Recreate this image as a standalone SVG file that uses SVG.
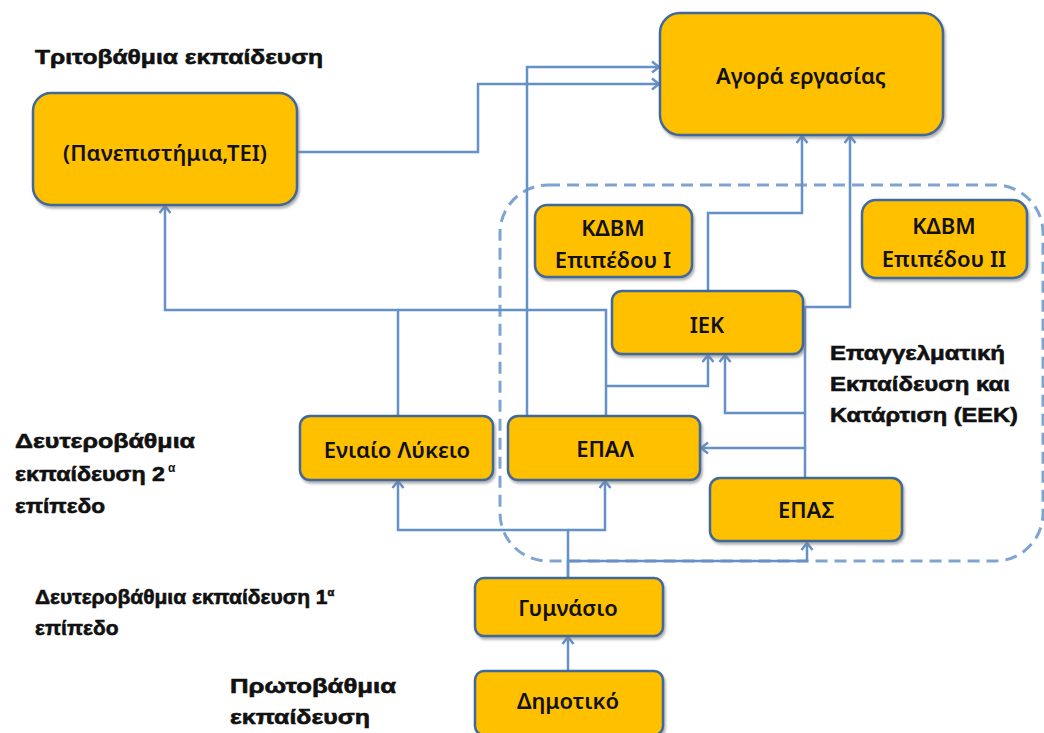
<svg xmlns="http://www.w3.org/2000/svg" width="1044" height="733" viewBox="0 0 1044 733">
<defs>
<style>
.box{fill:#ffc000;stroke:#41689a;stroke-width:2.5;filter:url(#sh)}
.nt{font-family:"Noto Sans","Open Sans",sans-serif;font-size:22px;font-weight:600;fill:#111;text-anchor:middle;dominant-baseline:central}
.lb{font-family:"Liberation Sans",Arial,sans-serif;font-size:21px;font-weight:bold;fill:#111;stroke:#111;stroke-width:0.6}
.sup{font-family:"Liberation Sans",Arial,sans-serif;font-size:12px;font-weight:bold;fill:#111}
.c{fill:none;stroke:#6590c8;stroke-width:2.5}
.ca{fill:none;stroke:#6590c8;stroke-width:2.5;marker-end:url(#ah)}
.dash{fill:none;stroke:#7fa4d2;stroke-width:3;stroke-dasharray:12 7}
</style>
<filter id="sh" x="-10%" y="-10%" width="120%" height="130%">
<feDropShadow dx="1.5" dy="2.5" stdDeviation="1" flood-color="#7f7f7f" flood-opacity="0.6"/>
</filter>
<marker id="ah" markerUnits="userSpaceOnUse" markerWidth="14" markerHeight="14" refX="10" refY="7" orient="auto">
<path d="M3,1.5 L10,7 L3,12.5" fill="none" stroke="#6590c8" stroke-width="2.5"/>
</marker>
</defs>

<rect class="dash" x="500" y="185" width="543" height="376" rx="48"/>

<g id="connectors">
<path class="ca" d="M297,152 H478 V84 H659"/>
<path class="ca" d="M527,416 V67 H659"/>
<path class="ca" d="M708,291 V213 H802 V136"/>
<path class="ca" d="M805,478 V307 H850 V136"/>
<path class="ca" d="M398,416 V310 H165 V206"/>
<path class="c" d="M606,416 V310 H398"/>
<path class="ca" d="M606,386 H708 V355"/>
<path class="ca" d="M805,413 H725 V355"/>
<path class="ca" d="M805,448 H701"/>
<path class="ca" d="M568,578 V530 H398 V481"/>
<path class="ca" d="M568,530 H605 V481"/>
<path class="ca" d="M568,578 V561 H807 V543"/>
<path class="ca" d="M568,671 V637"/>
</g>

<g id="uni"><rect class="box" x="33" y="93" width="264" height="112" rx="18"/><text class="nt" x="165" y="152">(Πανεπιστήμια,ΤΕΙ)</text></g>
<g id="agora"><rect class="box" x="660" y="13" width="283" height="122" rx="20"/><text class="nt" x="801" y="75" font-size="24">Αγορά εργασίας</text></g>
<g id="kdbm1"><rect class="box" x="535" y="205" width="157" height="72" rx="12"/><text class="nt" x="613" y="227">ΚΔΒΜ</text><text class="nt" x="613" y="259">Επιπέδου Ι</text></g>
<g id="kdbm2"><rect class="box" x="862" y="200" width="165" height="78" rx="14"/><text class="nt" x="944" y="225">ΚΔΒΜ</text><text class="nt" x="944" y="258">Επιπέδου ΙΙ</text></g>
<g id="iek"><rect class="box" x="612" y="291" width="191" height="63" rx="10"/><text class="nt" x="707" y="324">ΙΕΚ</text></g>
<g id="lykeio"><rect class="box" x="300" y="416" width="193" height="64" rx="10"/><text class="nt" x="397" y="449">Ενιαίο Λύκειο</text></g>
<g id="epal"><rect class="box" x="508" y="416" width="192" height="64" rx="10"/><text class="nt" x="605" y="448">ΕΠΑΛ</text></g>
<g id="epas"><rect class="box" x="710" y="478" width="192" height="63" rx="10"/><text class="nt" x="806" y="509">ΕΠΑΣ</text></g>
<g id="gym"><rect class="box" x="475" y="578" width="188" height="58" rx="9"/><text class="nt" x="568" y="607">Γυμνάσιο</text></g>
<g id="dim"><rect class="box" x="475" y="671" width="188" height="64" rx="9"/><text class="nt" x="568" y="700">Δημοτικό</text></g>

<g id="labels">
<text class="lb" x="35" y="64" textLength="288" lengthAdjust="spacingAndGlyphs">Τριτοβάθμια εκπαίδευση</text>
<text class="lb" x="15" y="448" textLength="180" lengthAdjust="spacingAndGlyphs">Δευτεροβάθμια</text>
<text class="lb" x="15" y="481" textLength="150" lengthAdjust="spacingAndGlyphs">εκπαίδευση 2</text>
<text class="sup" x="168" y="472">α</text>
<text class="lb" x="15" y="513" textLength="90" lengthAdjust="spacingAndGlyphs">επίπεδο</text>
<text class="lb" x="35" y="604" font-size="17.5">Δευτεροβάθμια εκπαίδευση 1<tspan font-size="11" dy="-8">α</tspan></text>
<text class="lb" x="35" y="635" font-size="18">επίπεδο</text>
<text class="lb" x="230" y="693" textLength="166" lengthAdjust="spacingAndGlyphs">Πρωτοβάθμια</text>
<text class="lb" x="230" y="724" textLength="140" lengthAdjust="spacingAndGlyphs">εκπαίδευση</text>
<text class="lb" x="830" y="360" textLength="175" lengthAdjust="spacingAndGlyphs">Επαγγελματική</text>
<text class="lb" x="830" y="391" textLength="180" lengthAdjust="spacingAndGlyphs">Εκπαίδευση και</text>
<text class="lb" x="830" y="422" textLength="188" lengthAdjust="spacingAndGlyphs">Κατάρτιση (ΕΕΚ)</text>
</g>
</svg>
